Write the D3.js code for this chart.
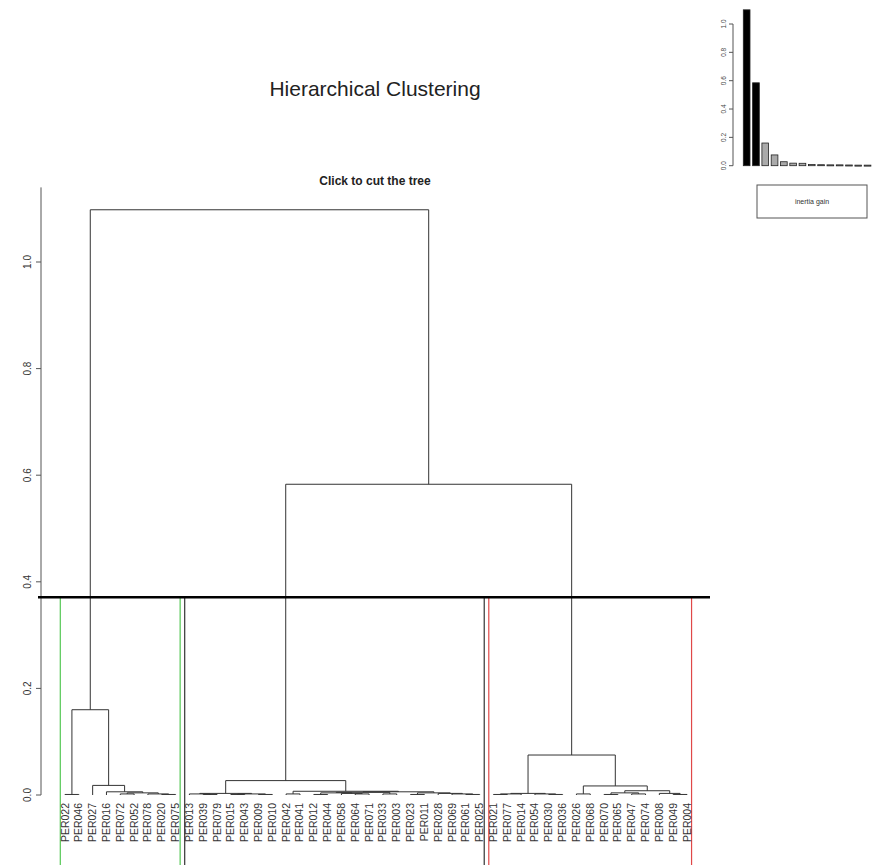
<!DOCTYPE html>
<html><head><meta charset="utf-8">
<script src="https://cdn.jsdelivr.net/npm/d3@7/dist/d3.min.js"></script>
<style>html,body{margin:0;padding:0;background:#fff;}svg{display:block;font-family:"Liberation Sans",Arial,sans-serif;}</style>
</head><body>
<script>
// ---------- DATA ----------
const leafLabels = ["PER022","PER046","PER027","PER016","PER072","PER052","PER078","PER020","PER075",
  "PER013","PER039","PER079","PER015","PER043","PER009","PER010","PER042","PER041","PER012","PER044",
  "PER058","PER064","PER071","PER033","PER003","PER023","PER011","PER028","PER069","PER061","PER025",
  "PER021","PER077","PER014","PER054","PER030","PER036","PER026","PER068","PER070","PER065","PER047",
  "PER074","PER008","PER049","PER004"];
// merges (R hclust convention): negative = leaf -(index+1), positive = merge number (1-based)
const mergeA = [-1,-8,-7,-5,4,-4,-3,1,
  -11,-10,-13,-15,11,10,
  -17,-19,-22,-21,16,-24,19,-26,-30,-29,-28,22,21,15,14,
  -32,30,-36,-35,31,-38,-40,-42,36,-45,-44,38,35,34,
  29,8];
const mergeB = [-2,-9,2,-6,3,5,6,7,
  -12,9,-14,-16,12,13,
  -18,-20,-23,17,18,-25,20,-27,-31,23,24,25,26,27,28,
  -33,-34,-37,32,33,-39,-41,-43,37,-46,39,40,41,42,
  43,44];
const mergeHeight = [0.001,0.001,0.002,0.002,0.004,0.006,0.018,0.160,
  0.001,0.002,0.001,0.001,0.002,0.003,
  0.002,0.001,0.002,0.003,0.004,0.002,0.005,0.001,0.001,0.002,0.003,0.004,0.006,0.007,0.027,
  0.001,0.002,0.001,0.002,0.003,0.002,0.001,0.002,0.004,0.001,0.003,0.008,0.017,0.075,
  0.583,1.098];
const cutHeight = 0.371;
const clusterColors = ["#55c855","#333333","#e04848"];
const yTicks = [0.0,0.2,0.4,0.6,0.8,1.0];
const inertiaGain = [1.10,0.585,0.160,0.076,0.028,0.018,0.017,0.008,0.007,0.006,0.006,0.005,0.004,0.004,0.004];
const inertiaTicks = [0.0,0.2,0.4,0.6,0.8,1.0];
const title = "Hierarchical Clustering";
const subtitle = "Click to cut the tree";
const legendText = "inertia gain";

// ---------- SETUP ----------
const W = 872, H = 865;
const svg = d3.select("body").append("svg").attr("width", W).attr("height", H);

const x = d3.scaleLinear().domain([0, leafLabels.length - 1]).range([65, 687]);
const y = d3.scaleLinear().domain([0, 1]).range([795, 262]);

const A = mergeA, B = mergeB;
const mergeX = [];
function childX(c){ return c < 0 ? x(-c - 1) : mergeX[c - 1]; }
function childH(c){ return c < 0 ? 0 : mergeHeight[c - 1]; }
for (let i = 0; i < A.length; i++) mergeX[i] = (childX(A[i]) + childX(B[i])) / 2;

// ---------- TITLES ----------
svg.append("text").attr("x", 375).attr("y", 96).attr("text-anchor","middle")
  .attr("font-size", 21).attr("fill","#222").text(title);
svg.append("text").attr("x", 375).attr("y", 185).attr("text-anchor","middle")
  .attr("font-size", 12).attr("font-weight","bold").attr("fill","#222").text(subtitle);

// ---------- Y AXIS ----------
const ax = svg.append("g");
ax.append("line").attr("x1",41).attr("x2",41).attr("y1", y(1.14)).attr("y2", y(0)).attr("stroke","#555");
yTicks.forEach(t => {
  ax.append("line").attr("x1",36).attr("x2",41).attr("y1",y(t)).attr("y2",y(t)).attr("stroke","#555");
  ax.append("text").attr("transform",`translate(31,${y(t)}) rotate(-90)`).attr("text-anchor","middle")
    .attr("font-size",10).attr("fill","#333").text(t.toFixed(1));
});

// ---------- CLUSTER RECTS ----------
const parentH = {};
for (let i = 0; i < A.length; i++){ parentH[A[i]] = mergeHeight[i]; parentH[B[i]] = mergeHeight[i]; }
function leavesOf(c){ if (c < 0) return [-c-1]; return leavesOf(A[c-1]).concat(leavesOf(B[c-1])); }
const clusters = [];
Object.keys(parentH).forEach(k => {
  const c = +k;
  if (childH(c) < cutHeight && parentH[c] > cutHeight) {
    const lv = leavesOf(c);
    clusters.push([d3.min(lv), d3.max(lv)]);
  }
});
clusters.sort((a,b)=>a[0]-b[0]);
const rg = svg.append("g");
clusters.forEach((c,i) => {
  [x(c[0]-0.34), x(c[1]+0.33)].forEach(xx => {
    rg.append("line").attr("x1",xx).attr("x2",xx).attr("y1",y(cutHeight)).attr("y2",H)
      .attr("stroke",clusterColors[i]).attr("stroke-width",1.2);
  });
});

// ---------- DENDROGRAM ----------
const dg = svg.append("g").attr("fill","none").attr("stroke","#333").attr("stroke-width",1);
for (let i = 0; i < A.length; i++) {
  const xa = childX(A[i]), xb = childX(B[i]);
  const ha = childH(A[i]), hb = childH(B[i]), h = mergeHeight[i];
  dg.append("path").attr("d", `M${xa},${y(ha)}V${y(h)}H${xb}V${y(hb)}`);
}

// cut line
svg.append("line").attr("x1",38).attr("x2",710).attr("y1",y(cutHeight)).attr("y2",y(cutHeight))
  .attr("stroke","#000").attr("stroke-width",2.6);

// leaf labels
leafLabels.forEach((l,i) => {
  svg.append("text").attr("transform",`translate(${x(i)+3.5},803) rotate(-90)`)
    .attr("text-anchor","end").attr("font-size",10.5).attr("fill","#333").text(l);
});

// ---------- INSET ----------
const iy = d3.scaleLinear().domain([0,1]).range([165.7, 24]);
const ix = d3.scaleBand().domain(d3.range(inertiaGain.length)).range([740.7, 740.7 + (inertiaGain.length + 0.28) * 9.3]).padding(0.28);
const ig = svg.append("g");
ig.append("line").attr("x1",733).attr("x2",733).attr("y1",iy(1)).attr("y2",iy(0)).attr("stroke","#555");
inertiaTicks.forEach(t => {
  ig.append("line").attr("x1",729).attr("x2",733).attr("y1",iy(t)).attr("y2",iy(t)).attr("stroke","#555");
  ig.append("text").attr("transform",`translate(726,${iy(t)}) rotate(-90)`).attr("text-anchor","middle")
    .attr("font-size",6.5).attr("fill","#444").text(t.toFixed(1));
});
ig.selectAll("rect.bar").data(inertiaGain).enter().append("rect")
  .attr("x",(d,i)=>ix(i)).attr("width",ix.bandwidth())
  .attr("y",d=>iy(d)).attr("height",d=>Math.max(iy(0)-iy(d),1))
  .attr("fill",(d,i)=> i < clusters.length - 1 ? "#000" : "#aaa")
  .attr("stroke","#222").attr("stroke-width",0.8);
ig.append("rect").attr("x",757).attr("y",185).attr("width",110).attr("height",33)
  .attr("fill","none").attr("stroke","#555").attr("stroke-width",1);
ig.append("text").attr("x",812).attr("y",204).attr("text-anchor","middle").attr("font-size",7)
  .attr("fill","#333").text(legendText);
</script>
</body></html>
